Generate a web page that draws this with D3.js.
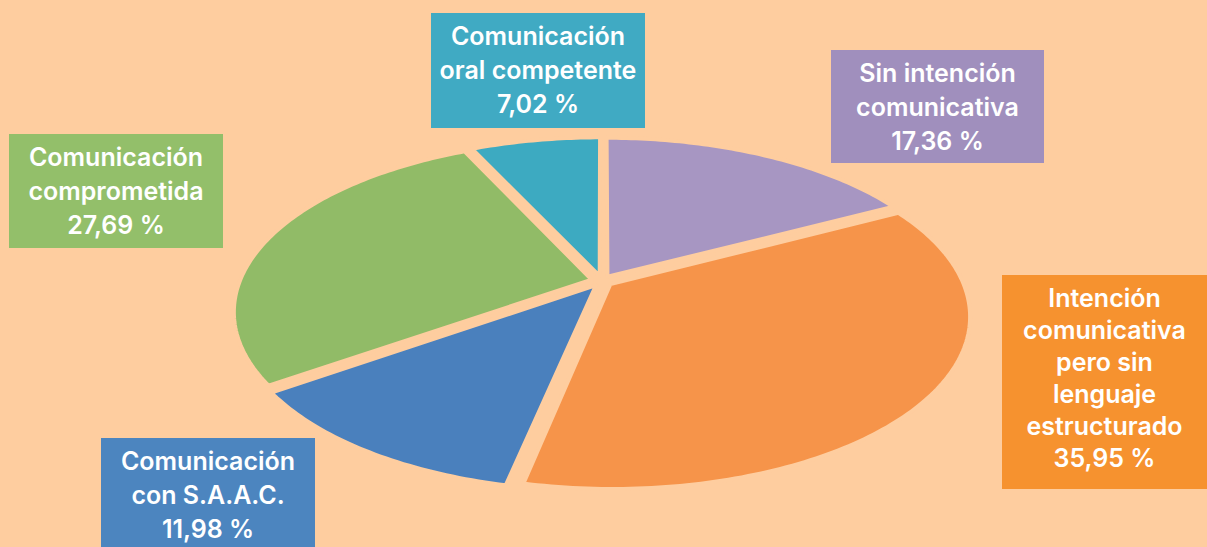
<!DOCTYPE html>
<html>
<head>
<meta charset="utf-8">
<script src="https://cdn.jsdelivr.net/npm/d3@7"></script>
<style>
  html, body { margin: 0; padding: 0; background: #fecd9f; }
  svg { display: block; }
  .box-text { font-family: Inter, Roboto, "Noto Sans", sans-serif; font-weight: 600; fill: #fff; }
</style>
</head>
<body>
<div id="chart"></div>
<script>
// --- data (clockwise from 12 o'clock) ---
const categories = [
    "Sin intención comunicativa",
    "Intención comunicativa pero sin lenguaje estructurado",
    "Comunicación con S.A.A.C.",
    "Comunicación comprometida",
    "Comunicación oral competente"
];
const values = [17.36, 35.95, 11.98, 27.69, 7.02];
const valueLabels = ["17,36 %", "35,95 %", "11,98 %", "27,69 %", "7,02 %"];
const labelLines = [
    ["Sin intención", "comunicativa"],
    ["Intención", "comunicativa", "pero sin", "lenguaje", "estructurado"],
    ["Comunicación", "con S.A.A.C."],
    ["Comunicación", "comprometida"],
    ["Comunicación", "oral competente"]
];

// --- styles / layout ---
const sliceColors = ["#a796c2", "#f6944a", "#4a80bd", "#91bb67", "#3daac1"];
const boxColors   = ["#a08fbd", "#f6922f", "#4c85bf", "#93bf6a", "#40aac3"];
const boxes = [
    { x: 831, y: 50,  w: 213, h: 113, lh: 34 },
    { x: 1002, y: 275, w: 205, h: 214, lh: 32 },
    { x: 101, y: 438, w: 214, h: 115, lh: 34 },
    { x: 9,   y: 134, w: 214, h: 114, lh: 34 },
    { x: 431, y: 13,  w: 214, h: 115, lh: 34 }
];

const W = 1207, H = 547;
const bg = "#fecd9f";

const svg = d3.select("#chart").append("svg")
    .attr("width", W)
    .attr("height", H);

svg.append("rect").attr("width", W).attr("height", H).attr("fill", bg);

// tilted disc seen in perspective
const cx = 602, cy = 281;
const A = 352, B = 166, k = 0.184;
const explode = 0.03;

function project(u, v) {
    const s = 1 + k * v;
    return [cx + A * u / s, cy - B * v / s];
}

const pie = d3.pie().sort(null).value(d => d);
const arcs = pie(values);

const line = d3.line();

arcs.forEach((a, i) => {
    const mid = (a.startAngle + a.endAngle) / 2;
    const ox = Math.sin(mid) * explode, oy = Math.cos(mid) * explode;
    const steps = Math.max(8, Math.ceil((a.endAngle - a.startAngle) * 60));
    const angle = d3.scaleLinear().domain([0, steps]).range([a.startAngle, a.endAngle]);
    const pts = [project(ox, oy)];
    d3.range(steps + 1).forEach(j => {
        const t = angle(j);
        pts.push(project(ox + Math.sin(t), oy + Math.cos(t)));
    });
    svg.append("path")
        .attr("d", line(pts) + "Z")
        .attr("fill", sliceColors[i])
        .attr("stroke", bg)
        .attr("stroke-width", 4)
        .attr("stroke-linejoin", "round");
});

// label boxes
boxes.forEach((b, i) => {
    const g = svg.append("g");
    g.append("rect")
        .attr("x", b.x).attr("y", b.y)
        .attr("width", b.w).attr("height", b.h)
        .attr("fill", boxColors[i]);
    const lines = labelLines[i].concat([valueLabels[i]]);
    g.selectAll("text").data(lines).join("text")
        .attr("class", "box-text")
        .attr("x", b.x + b.w / 2)
        .attr("y", (d, j) => b.y + 32 + j * b.lh)
        .attr("text-anchor", "middle")
        .attr("font-size", 25)
        .text(d => d);
});
</script>
</body>
</html>
